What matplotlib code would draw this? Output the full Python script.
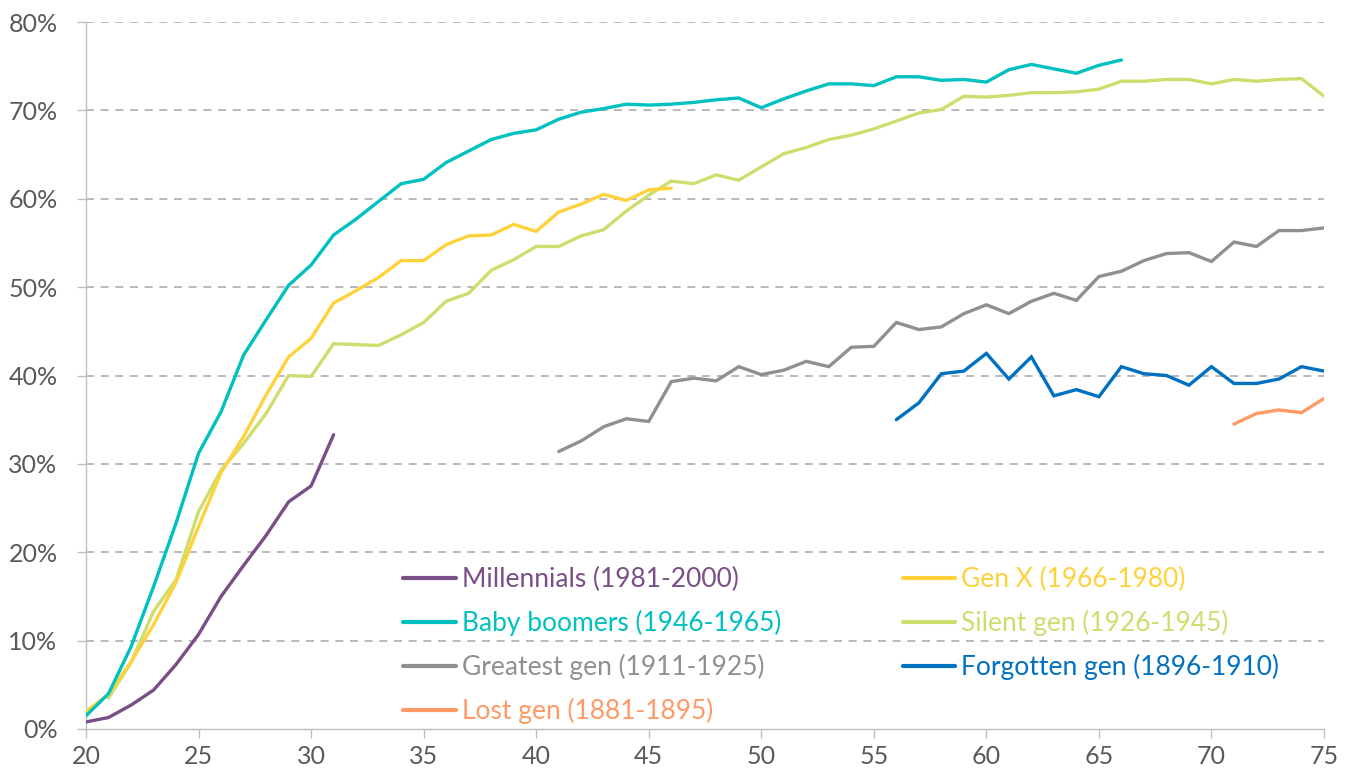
import matplotlib
matplotlib.use("Agg")
import matplotlib.pyplot as plt
from matplotlib.ticker import FuncFormatter, MultipleLocator

plt.rcParams['font.family'] = ['Lato', 'DejaVu Sans']

millennials_age = list(range(20, 32))
millennials = [0.8, 1.3, 2.7, 4.4, 7.3, 10.7, 15.0, 18.5, 21.9, 25.7, 27.5, 33.3]

genx_age = list(range(20, 47))
genx = [2.0, 3.9, 7.6, 11.8, 16.6, 22.9, 29.0, 33.1, 37.8, 42.1, 44.2, 48.2,
        49.6, 51.1, 53.0, 53.0, 54.8, 55.8, 55.9, 57.1, 56.3, 58.5, 59.4, 60.5,
        59.8, 61.0, 61.2]

boomers_age = list(range(20, 67))
boomers = [1.5, 4.0, 9.3, 16.1, 23.3, 31.2, 35.9, 42.3, 46.3, 50.2, 52.5, 55.9,
           57.7, 59.7, 61.7, 62.2, 64.1, 65.4, 66.7, 67.4, 67.8, 69.0, 69.8, 70.2,
           70.7, 70.6, 70.7, 70.9, 71.2, 71.4, 70.3, 71.3, 72.2, 73.0, 73.0, 72.8,
           73.8, 73.8, 73.4, 73.5, 73.2, 74.6, 75.2, 74.7, 74.2, 75.1, 75.7]

silent_age = list(range(21, 76))
silent = [3.5, 7.5, 13.3, 16.9, 24.6, 29.3, 32.3, 35.7, 40.0, 39.9, 43.6,
          43.5, 43.4, 44.6, 46.0, 48.4, 49.3, 51.9, 53.1, 54.6, 54.6, 55.8, 56.5,
          58.6, 60.4, 62.0, 61.7, 62.7, 62.1, 63.6, 65.1, 65.8, 66.7, 67.2, 67.9,
          68.8, 69.7, 70.1, 71.6, 71.5, 71.7, 72.0, 72.0, 72.1, 72.4, 73.3, 73.3,
          73.5, 73.5, 73.0, 73.5, 73.3, 73.5, 73.6, 71.6]

greatest_age = list(range(41, 76))
greatest = [31.4, 32.6, 34.2, 35.1, 34.8, 39.3, 39.7, 39.4, 41.0, 40.1, 40.6,
            41.6, 41.0, 43.2, 43.3, 46.0, 45.2, 45.5, 47.0, 48.0, 47.0, 48.4,
            49.3, 48.5, 51.2, 51.8, 53.0, 53.8, 53.9, 52.9, 55.1, 54.6, 56.4,
            56.4, 56.7]

forgotten_age = list(range(56, 76))
forgotten = [35.0, 36.9, 40.2, 40.5, 42.5, 39.6, 42.1, 37.7, 38.4, 37.6, 41.0,
             40.2, 40.0, 38.9, 41.0, 39.1, 39.1, 39.6, 41.0, 40.5]

lost_age = list(range(71, 76))
lost = [34.5, 35.7, 36.1, 35.8, 37.4]

labels = ["Millennials (1981-2000)", "Gen X (1966-1980)",
          "Baby boomers (1946-1965)", "Silent gen (1926-1945)",
          "Greatest gen (1911-1925)", "Forgotten gen (1896-1910)",
          "Lost gen (1881-1895)"]
colors = ["#7A4E87", "#FFD23C", "#00C0C0", "#CEDE6E", "#8E918F", "#0070C0", "#FF9966"]
series = [(millennials_age, millennials), (genx_age, genx), (boomers_age, boomers),
          (silent_age, silent), (greatest_age, greatest), (forgotten_age, forgotten),
          (lost_age, lost)]

W, H = 1352, 776
fig = plt.figure(figsize=(W / 100, H / 100), dpi=100)
ax = fig.add_axes([86 / W, 1 - 729 / H, (1324 - 86) / W, (729 - 22) / H])

draw_order = [6, 5, 4, 3, 1, 2, 0]
handles = {}
for i in draw_order:
    xs, ys = series[i]
    ln, = ax.plot(xs, ys, color=colors[i], lw=2.4, solid_capstyle='round',
                  solid_joinstyle='miter', label=labels[i], zorder=3)
    handles[i] = ln

ax.set_xlim(20, 75)
ax.set_ylim(0, 80)
ax.xaxis.set_major_locator(MultipleLocator(5))
ax.yaxis.set_major_locator(MultipleLocator(10))
ax.yaxis.set_major_formatter(FuncFormatter(lambda v, p: f"{int(v)}%"))

for y in range(10, 81, 10):
    ax.axhline(y, color="#A6A6A6", lw=1.1, ls=(0, (5.2, 4.4)), zorder=1)

for s in ['top', 'right']:
    ax.spines[s].set_visible(False)
for s in ['left', 'bottom']:
    ax.spines[s].set_color("#BFBFBF")
    ax.spines[s].set_linewidth(1.0)
ax.tick_params(axis='both', colors="#BFBFBF", length=6.5, width=1.0,
               labelcolor="#595959", labelsize=18)
ax.tick_params(axis='x', pad=5)
ax.tick_params(axis='y', pad=14)

col1 = [0, 2, 4, 6]
col2 = [1, 3, 5]
ordered = col1 + col2
leg = ax.legend([handles[i] for i in ordered], [labels[i] for i in ordered],
                ncol=2, frameon=False, fontsize=19, handlelength=2.0,
                handletextpad=0.23, columnspacing=4.6, labelspacing=0.68,
                loc='upper left', bbox_to_anchor=((403 - 86) / 1238, (729 - 567) / 707),
                borderaxespad=0, borderpad=0)
for txt, i in zip(leg.get_texts(), ordered):
    txt.set_color(colors[i])
for lh in leg.get_lines():
    lh.set_linewidth(3)

fig.savefig("out.png", dpi=100)
